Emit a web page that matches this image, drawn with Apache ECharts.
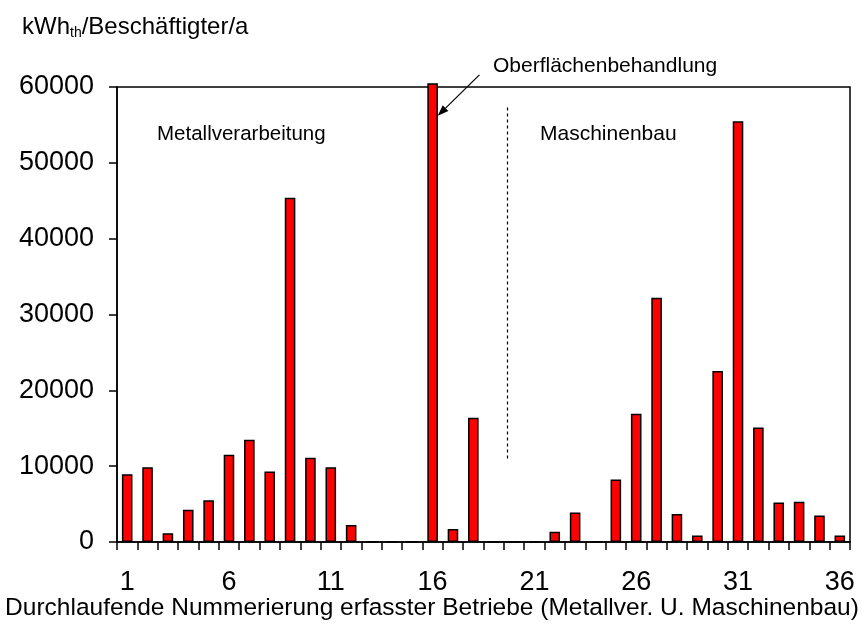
<!DOCTYPE html>
<html>
<head>
<meta charset="utf-8">
<script src="https://cdn.jsdelivr.net/npm/echarts@6/dist/echarts.min.js"></script>
<style>
  html, body { margin: 0; padding: 0; background: #fff; }
  #chart { width: 865px; height: 628px; }
</style>
</head>
<body>
<div id="chart"></div>
<script>
// Betriebe 1..36 (Metallverarbeitung und Maschinenbau)
const categories = ['1','2','3','4','5','6','7','8','9','10','11','12','13','14','15','16','17','18',
                    '19','20','21','22','23','24','25','26','27','28','29','30','31','32','33','34','35','36'];
// Wärmeverbrauch je Beschäftigtem und Jahr, kWh_th
const values = [8950, 9850, 1150, 4250, 5500, 11500, 13500, 9300, 45400, 11100, 9850, 2250,
                0, 0, 0, 60500, 1700, 16400, 0, 0, 0, 1350, 3900, 0,
                8250, 16900, 32200, 3700, 850, 22550, 55500, 15100, 5200, 5300, 3500, 850];
const yTicks = [0, 10000, 20000, 30000, 40000, 50000, 60000];

// Trennlinie zwischen den Branchen (Positionen auf der Nummernskala)
const dividerLine = [[19.65, 11000], [19.65, 57400]];
// Pfeil zum Betrieb mit Oberflächenbehandlung: [x0, y0, x1, y1]
const arrowLine = [18.3, 61600, 16.25, 56200];

const FONT = "'Liberation Sans', Arial, sans-serif";

const chart = echarts.init(document.getElementById('chart'), null, { renderer: 'canvas' });

// Draws a straight arrow between two points given in axis units
function renderArrow(params, api) {
  const p0 = api.coord([api.value(0), api.value(1)]);
  const p1 = api.coord([api.value(2), api.value(3)]);
  const dx = p1[0] - p0[0], dy = p1[1] - p0[1];
  const len = Math.sqrt(dx * dx + dy * dy);
  const ux = dx / len, uy = dy / len;
  const headL = 11, headW = 4;
  const bx = p1[0] - ux * headL, by = p1[1] - uy * headL;
  return {
    type: 'group',
    children: [
      {
        type: 'line',
        shape: { x1: p0[0], y1: p0[1], x2: bx, y2: by },
        style: { stroke: '#000', lineWidth: 1.2 }
      },
      {
        type: 'polygon',
        shape: { points: [
          [p1[0], p1[1]],
          [bx - uy * headW, by + ux * headW],
          [bx + uy * headW, by - ux * headW]
        ] },
        style: { fill: '#000' }
      }
    ]
  };
}

chart.setOption({
  animation: false,
  backgroundColor: '#ffffff',
  grid: {
    left: 117, right: 15, top: 87, bottom: 86,
    outerBoundsMode: 'none',
    containLabel: false,
    show: true, borderColor: '#000', borderWidth: 1.5, backgroundColor: 'transparent'
  },
  xAxis: [
    {
      type: 'category',
      data: categories,
      boundaryGap: true,
      axisLine: { lineStyle: { color: '#000', width: 1.5 } },
      axisTick: { show: true, interval: 0, length: 8, inside: false, lineStyle: { color: '#000', width: 1.5 } },
      axisLabel: { interval: 4, margin: 27, fontSize: 27, color: '#000', fontFamily: FONT },
      splitLine: { show: false }
    },
    {
      type: 'value',
      min: 0.5, max: 36.5,
      show: false
    }
  ],
  yAxis: {
    type: 'value',
    min: yTicks[0],
    max: yTicks[yTicks.length - 1],
    interval: 10000,
    axisLine: { show: true, lineStyle: { color: '#000', width: 1.5 } },
    axisTick: { show: true, length: 8, lineStyle: { color: '#000', width: 1.5 } },
    axisLabel: { margin: 23, fontSize: 27, color: '#000', fontFamily: FONT, formatter: (v) => String(v) },
    splitLine: { show: false }
  },
  series: [
    {
      type: 'bar',
      data: values,
      xAxisIndex: 0,
      barWidth: '52%',
      clip: false,
      itemStyle: { color: '#ff0000', borderColor: '#000', borderWidth: 1.5 }
    },
    {
      type: 'line',
      xAxisIndex: 1,
      data: [],
      silent: true,
      markLine: {
        silent: true,
        animation: false,
        label: { show: false },
        symbol: 'none',
        data: [
          [
            { coord: dividerLine[0] },
            { coord: dividerLine[1] }
          ]
        ],
        lineStyle: { color: '#000', width: 1.2, type: [3, 3] }
      }
    },
    {
      type: 'custom',
      xAxisIndex: 1,
      silent: true,
      clip: false,
      renderItem: renderArrow,
      data: [arrowLine]
    }
  ],
  graphic: [
    {
      type: 'text', x: 22, y: 27,
      style: {
        text: '{a|kWh}{s|th}{a|/Beschäftigter/a}',
        verticalAlign: 'middle',
        rich: {
          a: { fontSize: 24, fontFamily: FONT, fill: '#000' },
          s: { fontSize: 14, fontFamily: FONT, fill: '#000', verticalAlign: 'bottom', padding: [12, 0, 0, 0] }
        }
      }
    },
    {
      type: 'text', x: 432, y: 608,
      style: {
        text: 'Durchlaufende Nummerierung erfasster Betriebe (Metallver. U. Maschinenbau)',
        fontSize: 24.5, fontFamily: FONT, fill: '#000', align: 'center', verticalAlign: 'middle'
      }
    },
    {
      type: 'text', x: 157, y: 134,
      style: { text: 'Metallverarbeitung', fontSize: 20.5, fontFamily: FONT, fill: '#000', verticalAlign: 'middle' }
    },
    {
      type: 'text', x: 540, y: 134,
      style: { text: 'Maschinenbau', fontSize: 21, fontFamily: FONT, fill: '#000', verticalAlign: 'middle' }
    },
    {
      type: 'text', x: 493, y: 66,
      style: { text: 'Oberflächenbehandlung', fontSize: 21, fontFamily: FONT, fill: '#000', verticalAlign: 'middle' }
    }
  ]
});
</script>
</body>
</html>
